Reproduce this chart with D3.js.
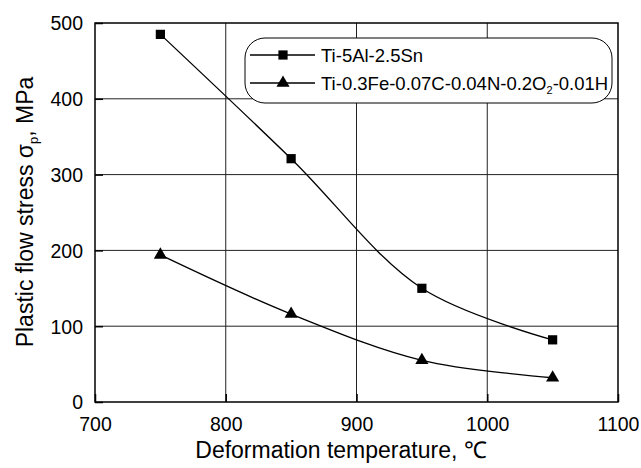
<!DOCTYPE html>
<html><head><meta charset="utf-8">
<script src="https://cdn.jsdelivr.net/npm/d3@7"></script>
<style>
html,body{margin:0;padding:0;background:#fff;}
svg{display:block;font-family:"Liberation Sans",Arial,sans-serif;}
</style></head>
<body><svg id="c" width="641" height="468"></svg>
<script>
const temperatures = [750, 850, 950, 1050];
const seriesNames = ["Ti-5Al-2.5Sn", "Ti-0.3Fe-0.07C-0.04N-0.2O2-0.01H"];
const tiAlSn = [485, 321, 150, 82];
const tiFe = [194, 116, 55, 32];
const xTicks = [700, 800, 900, 1000, 1100];
const yTicks = [0, 100, 200, 300, 400, 500];

const svg = d3.select("#c");
const m = {l:95, r:23, t:23, b:66};
const W = 641, H = 468;
const x = d3.scaleLinear().domain([700,1100]).range([m.l, W-m.r]);
const y = d3.scaleLinear().domain([0,500]).range([H-m.b, m.t]);

// grid
const g = svg.append("g");
g.selectAll(".gx").data(xTicks.slice(1,-1)).join("line")
  .attr("x1",d=>x(d)).attr("x2",d=>x(d)).attr("y1",y(0)).attr("y2",y(500))
  .attr("stroke","#222").attr("stroke-width",1);
g.selectAll(".gy").data(yTicks.slice(1,-1)).join("line")
  .attr("y1",d=>y(d)).attr("y2",d=>y(d)).attr("x1",x(700)).attr("x2",x(1100))
  .attr("stroke","#222").attr("stroke-width",1);

// axes
const fmt = d3.format("d");
const xAxis = d3.axisBottom(x).tickValues(xTicks).tickFormat(fmt).tickSizeInner(-8).tickSizeOuter(0).tickPadding(15);
const yAxis = d3.axisLeft(y).tickValues(yTicks).tickFormat(fmt).tickSizeInner(-8).tickSizeOuter(0).tickPadding(12);
const gx = svg.append("g").attr("transform",`translate(0,${y(0)})`).call(xAxis);
const gy = svg.append("g").attr("transform",`translate(${x(700)},0)`).call(yAxis);
[gx,gy].forEach(a=>{
  a.select(".domain").remove();
  a.selectAll("line").attr("stroke","#000").attr("stroke-width",1.5);
  a.selectAll("text").attr("font-size",19.5).attr("fill","#000").attr("font-family","Liberation Sans, Arial, sans-serif");
});
gx.selectAll("text").attr("dy","0.71em");
gy.selectAll("text").attr("dy","0.35em");

svg.append("rect").attr("x",x(700)).attr("y",y(500)).attr("width",x(1100)-x(700)).attr("height",y(0)-y(500))
  .attr("fill","none").attr("stroke","#000").attr("stroke-width",1.5);

// lines
const line = d3.line().x((d,i)=>x(temperatures[i])).y(d=>y(d)).curve(d3.curveCatmullRom.alpha(0.5));
const sym = [d3.symbolSquare, d3.symbolTriangle];
const symSize = [85, 75];
[tiAlSn, tiFe].forEach((vals,k)=>{
  svg.append("path").attr("d",line(vals)).attr("fill","none").attr("stroke","#000").attr("stroke-width",1.3);
  svg.selectAll(null).data(vals).join("path")
    .attr("d", d3.symbol(sym[k], symSize[k]))
    .attr("transform",(d,i)=>`translate(${x(temperatures[i])},${y(d)})`)
    .attr("fill","#000");
});

// legend
const lg = svg.append("g");
lg.append("rect").attr("x",245).attr("y",38).attr("width",367).attr("height",65).attr("rx",20).attr("ry",20)
  .attr("fill","#fff").attr("stroke","#000").attr("stroke-width",1);
const rowsY = [55, 83];
seriesNames.forEach((name,k)=>{
  lg.append("line").attr("x1",250).attr("x2",315).attr("y1",rowsY[k]).attr("y2",rowsY[k]).attr("stroke","#000").attr("stroke-width",1.3);
  lg.append("path").attr("d",d3.symbol(sym[k],symSize[k])).attr("transform",`translate(283,${rowsY[k]})`).attr("fill","#000");
  const t = lg.append("text").attr("x",321).attr("y",rowsY[k]).attr("dy","0.36em").attr("font-size",18.5).attr("fill","#000");
  if (name.includes("O2")) {
    const parts = name.split("O2");
    t.append("tspan").text(parts[0]+"O");
    t.append("tspan").text("2").attr("font-size",11).attr("dy",4);
    t.append("tspan").text(parts[1]).attr("dy",-4);
  } else t.text(name);
});

// axis titles
svg.append("text").attr("x",341).attr("y",458).attr("text-anchor","middle")
  .attr("font-size",23).attr("fill","#000").text("Deformation temperature, ℃");
const yt = svg.append("text").attr("transform","translate(33,212) rotate(-90)").attr("text-anchor","middle")
  .attr("font-size",23).attr("fill","#000");
yt.append("tspan").text("Plastic flow stress σ");
yt.append("tspan").text("p").attr("font-size",13).attr("dy",5);
yt.append("tspan").text(", MPa").attr("dy",-5);
</script></body></html>
